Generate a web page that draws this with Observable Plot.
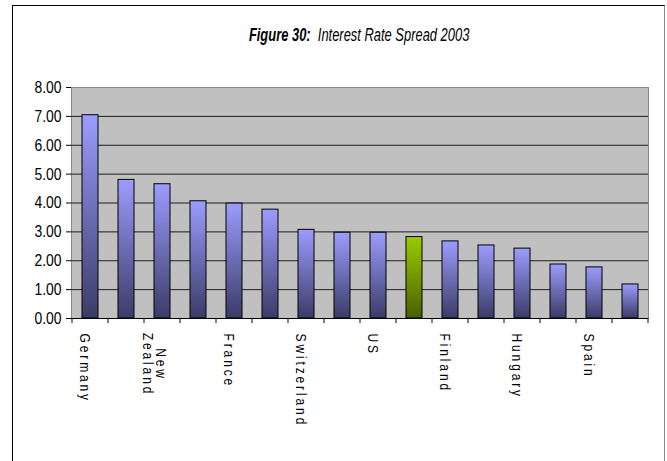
<!DOCTYPE html>
<html>
<head>
<meta charset="utf-8">
<script src="https://cdn.jsdelivr.net/npm/d3@7"></script>
<script src="https://cdn.jsdelivr.net/npm/@observablehq/plot@0.6"></script>
<style>
  html, body { margin: 0; padding: 0; background: #fff; overflow: hidden; }
  #wrap { position: relative; width: 667px; height: 461px; overflow: hidden;
          font-family: "Liberation Sans", Arial, sans-serif; }
  #border { position: absolute; left: 12px; top: 5px; width: 653px; height: 480px;
            border: 1.5px solid #000; border-right-color: #8a8a8a; box-sizing: border-box; }
  #title { position: absolute; left: 71px; width: 577px; top: 25px; text-align: center;
           font-size: 19px; font-style: italic; color: #000; line-height: 1; }
  #title span { display: inline-block; transform: scaleX(0.68); transform-origin: 50% 50%; white-space: nowrap; }
  #title b { font-weight: bold; }
  #chart { position: absolute; left: 0; top: 0; }
</style>
</head>
<body>
<div id="wrap">
  <div id="border"></div>
  <div id="title"><span><b>Figure 30:</b>&nbsp; Interest Rate Spread 2003</span></div>
  <div id="chart"></div>
</div>
<script>
// Interest rate spread by country, 2003 (percentage points)
const labels = ["Germany", "", "New\nZealand", "", "France", "", "Switzerland", "",
                "US", "", "Finland", "", "Hungary", "", "Spain", ""];
const spreads = [7.04, 4.80, 4.65, 4.06, 3.98, 3.77, 3.07, 2.97,
                 2.97, 2.82, 2.67, 2.53, 2.42, 1.87, 1.77, 1.18];
const highlightIndex = 9;
const yTicks = [0, 1, 2, 3, 4, 5, 6, 7, 8];

const idx = d3.range(spreads.length);
const rows = idx.map(i => ({i, label: labels[i], value: spreads[i]}));
const named = rows.filter(d => d.label !== "");

// vertical gradients used by the bar fills
function gradients() {
  const defs = d3.create("svg:defs");
  const add = (id, top, bottom) => {
    const g = defs.append("linearGradient").attr("id", id)
      .attr("x1", 0).attr("y1", 0).attr("x2", 0).attr("y2", 1);
    g.append("stop").attr("offset", "0%").attr("stop-color", top);
    g.append("stop").attr("offset", "100%").attr("stop-color", bottom);
  };
  add("barBlue", "#9c9cff", "#3b3b68");
  add("barGreen", "#9acc00", "#4a6000");
  return defs.node();
}

// category boundary tick marks below the x axis
function boundaryTicks(index, scales) {
  const x = scales.x, y0 = scales.y(0);
  const gap = (x.step() - x.bandwidth()) / 2;
  const g = d3.create("svg:g").attr("stroke", "#000").attr("stroke-width", 1);
  const xs = idx.map(i => x(i) - gap).concat([x(idx.length - 1) + x.bandwidth() + gap]);
  for (const px of xs) {
    g.append("line").attr("x1", px).attr("x2", px).attr("y1", y0).attr("y2", y0 + 5);
  }
  return g.node();
}

const chart = Plot.plot({
  width: 667,
  height: 461,
  marginLeft: 71,
  marginRight: 19,
  marginTop: 87,
  marginBottom: 143,
  style: {fontFamily: "Liberation Sans, Arial, sans-serif", fontSize: "17px", color: "#000", background: "transparent"},
  x: {domain: idx, paddingInner: 0.565, paddingOuter: 0.2825, axis: null},
  y: {domain: [0, 8], axis: null},
  marks: [
    gradients,
    Plot.frame({fill: "#c0c0c0", stroke: "#8a8a8a"}),
    Plot.ruleY(yTicks.filter(t => t > 0 && t < 8), {stroke: "#1e1e1e", strokeWidth: 1}),
    Plot.barY(rows.filter(d => d.i !== highlightIndex), {x: "i", y: "value", fill: "url(#barBlue)", stroke: "#000", strokeWidth: 1}),
    Plot.barY(rows.filter(d => d.i === highlightIndex), {x: "i", y: "value", fill: "url(#barGreen)", stroke: "#000", strokeWidth: 1}),
    Plot.ruleY([0], {stroke: "#000"}),
    Plot.axisY({ticks: yTicks, tickFormat: d3.format(".2f"), tickSize: 5, tickPadding: 5, line: true, label: null, stroke: "#000"}),
    boundaryTicks,
    Plot.text(named.filter(d => !d.label.includes("\n")), {
      x: "i", text: "label", frameAnchor: "bottom", dy: 15, rotate: 90,
      textAnchor: "start", lineAnchor: "top", fontSize: 15
    }),
    Plot.text(named.filter(d => d.label.includes("\n")), {
      x: "i", text: "label", frameAnchor: "bottom", dy: 46, dx: -9, rotate: 90,
      textAnchor: "middle", lineAnchor: "middle", fontSize: 15, lineHeight: 0.85
    })
  ]
});

// narrow letterforms: squeeze glyphs along the reading direction
const squeeze = (sel, k) => sel.each(function() {
  const t = this.getAttribute("transform") || "";
  this.setAttribute("transform", `${t} scale(${k},1)`);
});
const sel = d3.select(chart);
const tickText = new Set(yTicks.map(d3.format(".2f")));
squeeze(sel.selectAll("text").filter(function() { return tickText.has(this.textContent); }), 0.82);
squeeze(sel.selectAll('g[aria-label="text"] text').style("letter-spacing", "3.6px"), 0.8);
document.getElementById("chart").appendChild(chart);
</script>
</body>
</html>
